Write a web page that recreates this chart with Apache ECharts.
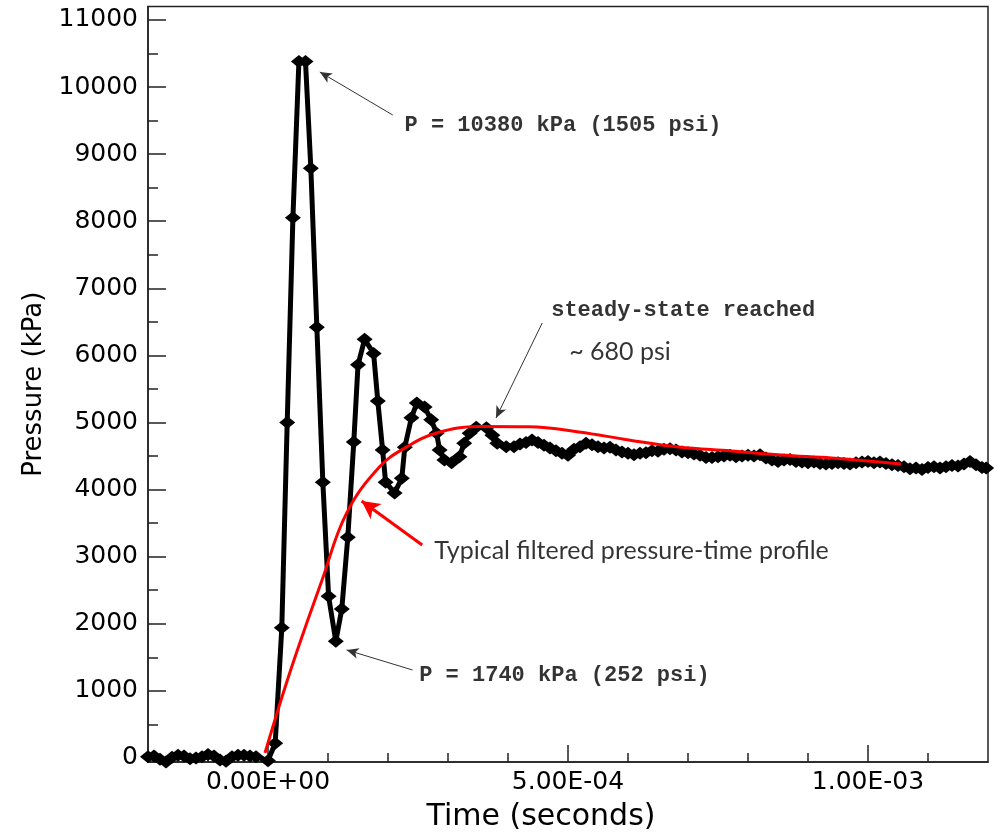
<!DOCTYPE html>
<html>
<head>
<meta charset="utf-8">
<script src="https://cdn.jsdelivr.net/npm/echarts@6/dist/echarts.min.js"></script>
<style>
html,body{margin:0;padding:0;background:#fff;}
#chart{width:997px;height:838px;}
</style>
</head>
<body>
<div id="chart"></div>
<script>
// ---- measured pressure trace (time in s, pressure in kPa) ----
const measuredT = [
  -2.00e-4,-1.90e-4,-1.80e-4,-1.70e-4,-1.60e-4,-1.50e-4,-1.40e-4,-1.30e-4,-1.20e-4,-1.10e-4,
  -1.00e-4,-0.90e-4,-0.80e-4,-0.70e-4,-0.60e-4,-0.50e-4,-0.40e-4,-0.30e-4,-0.20e-4,
  0.00e-4,0.12e-4,0.23e-4,0.32e-4,0.415e-4,0.515e-4,0.625e-4,0.714e-4,0.814e-4,0.914e-4,
  1.01e-4,1.13e-4,1.23e-4,1.33e-4,1.43e-4,1.50e-4,1.61e-4,1.76e-4,1.83e-4,1.91e-4,1.96e-4,
  2.11e-4,2.23e-4,2.28e-4,2.39e-4,2.48e-4,2.61e-4,2.72e-4,2.81e-4,2.86e-4,2.94e-4,
  3.06e-4,3.19e-4,3.27e-4,3.36e-4,3.47e-4,3.64e-4,3.74e-4,3.82e-4,3.97e-4,
  4.1e-4,4.2e-4,4.3e-4,4.4e-4,4.5e-4,4.6e-4,4.7e-4,4.8e-4,4.9e-4,5.0e-4,
  5.1e-4,5.2e-4,5.3e-4,5.4e-4,5.5e-4,5.6e-4,5.7e-4,5.8e-4,5.9e-4,6.0e-4,
  6.1e-4,6.2e-4,6.3e-4,6.4e-4,6.5e-4,6.6e-4,6.7e-4,6.8e-4,6.9e-4,7.0e-4,
  7.1e-4,7.2e-4,7.3e-4,7.4e-4,7.5e-4,7.6e-4,7.7e-4,7.8e-4,7.9e-4,8.0e-4,
  8.1e-4,8.2e-4,8.3e-4,8.4e-4,8.5e-4,8.6e-4,8.7e-4,8.8e-4,8.9e-4,9.0e-4,
  9.1e-4,9.2e-4,9.3e-4,9.4e-4,9.5e-4,9.6e-4,9.7e-4,9.8e-4,9.9e-4,10.0e-4,
  10.1e-4,10.2e-4,10.3e-4,10.4e-4,10.5e-4,10.6e-4,10.7e-4,10.8e-4,10.9e-4,11.0e-4,
  11.1e-4,11.2e-4,11.3e-4,11.4e-4,11.5e-4,11.6e-4,11.7e-4,11.8e-4,11.9e-4,11.97e-4
];
const measuredP = [
  20,30,-20,-60,10,40,30,-10,0,20,
  50,30,-30,-50,20,40,40,30,20,
  -40,220,1940,5000,8050,10380,10380,8790,6420,4110,
  2410,1740,2220,3290,4710,5860,6240,6030,5320,4590,4110,
  3950,4170,4630,5070,5290,5230,5040,4840,4590,4440,
  4400,4490,4690,4840,4930,4920,4810,4690,4640,
  4640,4680,4700,4740,4700,4660,4620,4580,4540,4510,
  4600,4640,4690,4670,4640,4620,4630,4590,4560,4540,
  4520,4540,4550,4580,4570,4600,4610,4590,4560,4550,
  4530,4510,4480,4480,4490,4500,4510,4490,4500,4510,
  4500,4520,4470,4440,4420,4440,4450,4420,4410,4400,
  4410,4390,4380,4390,4400,4390,4380,4400,4410,4420,
  4400,4410,4390,4370,4360,4340,4310,4320,4300,4330,
  4340,4320,4340,4360,4350,4380,4420,4370,4330,4320
];

// ---- filtered profile (red) ----
const filteredT = [-0.05e-4,0.37e-4,0.90e-4,1.31e-4,1.86e-4,2.31e-4,2.81e-4,3.52e-4,4.35e-4,5.18e-4,6.01e-4,6.84e-4,7.72e-4,8.55e-4,9.39e-4,9.95e-4,10.55e-4];
const filteredP = [75,1290,2650,3650,4340,4635,4843,4940,4935,4860,4740,4635,4575,4515,4470,4430,4380];

// ---- axis ticks ----
const xMin = -2e-4, xMax = 1.2e-3;
const xMajorTicks = [0, 5e-4, 1e-3];
const xTickLabels = ['0.00E+00', '5.00E-04', '1.00E-03'];
const xMinorTicks = [-2e-4,-1e-4,1e-4,2e-4,3e-4,4e-4,6e-4,7e-4,8e-4,9e-4,1.1e-3];
const yMin = -60, yMax = 11200;
const yMajorTicks = [0,1000,2000,3000,4000,5000,6000,7000,8000,9000,10000,11000];
const yMinorTicks = [500,1500,2500,3500,4500,5500,6500,7500,8500,9500,10500];

// ---- annotations ----
const annoText = ['P = 10380 kPa (1505 psi)','steady-state reached','~ 680 psi','Typical filtered pressure-time profile','P = 1740 kPa (252 psi)'];
const annoT = [2.276e-4, 4.72e-4, 5.02e-4, 2.77e-4, 2.52e-4];
const annoP = [9432, 6675, 6050, 3084, 1237];
const annoMono = [true, true, false, false, true];
const arrowFrom = [[2.08e-4, 9582],[4.57e-4, 6482],[2.41e-4, 1311]];
const arrowTo   = [[0.864e-4, 10224],[3.80e-4, 5067],[1.31e-4, 1610]];
const redArrowFrom = [2.57e-4, 3174];
const redArrowTo = [1.56e-4, 3830];

const measured = measuredT.map((t, i) => [t, measuredP[i]]);
const filtered = filteredT.map((t, i) => [t, filteredP[i]]);

const chart = echarts.init(document.getElementById('chart'), null, {renderer: 'canvas'});
const axisFont = {fontFamily: 'DejaVu Sans', fontSize: 25, color: '#000'};
const option = {
  animation: false,
  backgroundColor: '#fff',
  grid: {left: 148, right: 9, top: 6.5, bottom: 76, show: true, borderColor: '#222', borderWidth: 1.5, backgroundColor: 'transparent'},
  xAxis: [
    {
      type: 'value', min: xMin, max: xMax, position: 'bottom',
      name: 'Time (seconds)', nameLocation: 'middle', nameGap: 40,
      nameTextStyle: {fontFamily: 'DejaVu Sans', fontSize: 30, color: '#000', padding: [0, 54, 0, 0]},
      axisLine: {show: true, onZero: false, lineStyle: {color: '#222', width: 1.5}},
      axisTick: {show: true, inside: true, length: 17, customValues: xMajorTicks, lineStyle: {color: '#222', width: 1.5}},
      axisLabel: Object.assign({show: true, margin: 8, customValues: xMajorTicks,
        formatter: function (v) { const i = xMajorTicks.findIndex(x => Math.abs(x - v) < 1e-9); return i >= 0 ? xTickLabels[i] : ''; }}, axisFont),
      splitLine: {show: false}
    },
    {
      type: 'value', min: xMin, max: xMax, position: 'bottom',
      axisLine: {show: false, onZero: false},
      axisTick: {show: true, inside: true, length: 9, customValues: xMinorTicks, lineStyle: {color: '#222', width: 1.5}},
      axisLabel: {show: false},
      splitLine: {show: false}
    }
  ],
  yAxis: [
    {
      type: 'value', min: yMin, max: yMax, position: 'left',
      name: 'Pressure (kPa)', nameLocation: 'middle', nameGap: 95, nameRotate: 90,
      nameTextStyle: {fontFamily: 'DejaVu Sans', fontSize: 26, color: '#000'},
      axisLine: {show: true, onZero: false, lineStyle: {color: '#222', width: 1.5}},
      axisTick: {show: true, inside: true, length: 18, customValues: yMajorTicks, lineStyle: {color: '#222', width: 1.5}},
      axisLabel: Object.assign({show: true, margin: 10, customValues: yMajorTicks,
        formatter: function (v) { return String(Math.round(v)); }}, axisFont),
      splitLine: {show: false}
    },
    {
      type: 'value', min: yMin, max: yMax, position: 'left',
      axisLine: {show: false, onZero: false},
      axisTick: {show: true, inside: true, length: 10, customValues: yMinorTicks, lineStyle: {color: '#222', width: 1.5}},
      axisLabel: {show: false},
      splitLine: {show: false}
    }
  ],
  series: [
    {
      name: 'measured', type: 'line', data: measured,
      xAxisIndex: 0, yAxisIndex: 0,
      lineStyle: {color: '#000', width: 5},
      itemStyle: {color: '#000'},
      symbol: 'diamond', symbolSize: [16, 13], showSymbol: true,
      z: 3,
      markLine: {
        silent: true, animation: false,
        symbol: ['none', 'arrow'], symbolSize: [8, 12],
        label: {show: false},
        lineStyle: {color: '#333', width: 1, type: 'solid'},
        data: arrowFrom.map((f, i) => [{coord: f}, {coord: arrowTo[i]}])
      }
    },
    {
      name: 'filtered', type: 'line', data: filtered,
      xAxisIndex: 0, yAxisIndex: 0,
      smooth: 0.4, showSymbol: false, symbol: 'none',
      lineStyle: {color: '#ff0000', width: 3},
      z: 4,
      markLine: {
        silent: true, animation: false,
        symbol: ['none', 'arrow'], symbolSize: [14, 18],
        label: {show: false},
        lineStyle: {color: '#ff0000', width: 3, type: 'solid'},
        data: [[{coord: redArrowFrom}, {coord: redArrowTo}]]
      }
    },
    {
      name: 'annotations', type: 'scatter', symbolSize: 0, silent: true,
      xAxisIndex: 0, yAxisIndex: 0, z: 5,
      data: annoText.map((txt, i) => ({
        value: [annoT[i], annoP[i]],
        label: {
          show: true, position: 'right', distance: 0, formatter: txt,
          align: 'left', verticalAlign: 'middle',
          fontFamily: annoMono[i] ? 'Liberation Mono' : 'Lato',
          fontWeight: annoMono[i] ? 'bold' : 'normal',
          fontSize: annoMono[i] ? 22 : 25,
          color: '#000'
        }
      }))
    }
  ]
};
chart.setOption(option);
</script>
</body>
</html>
